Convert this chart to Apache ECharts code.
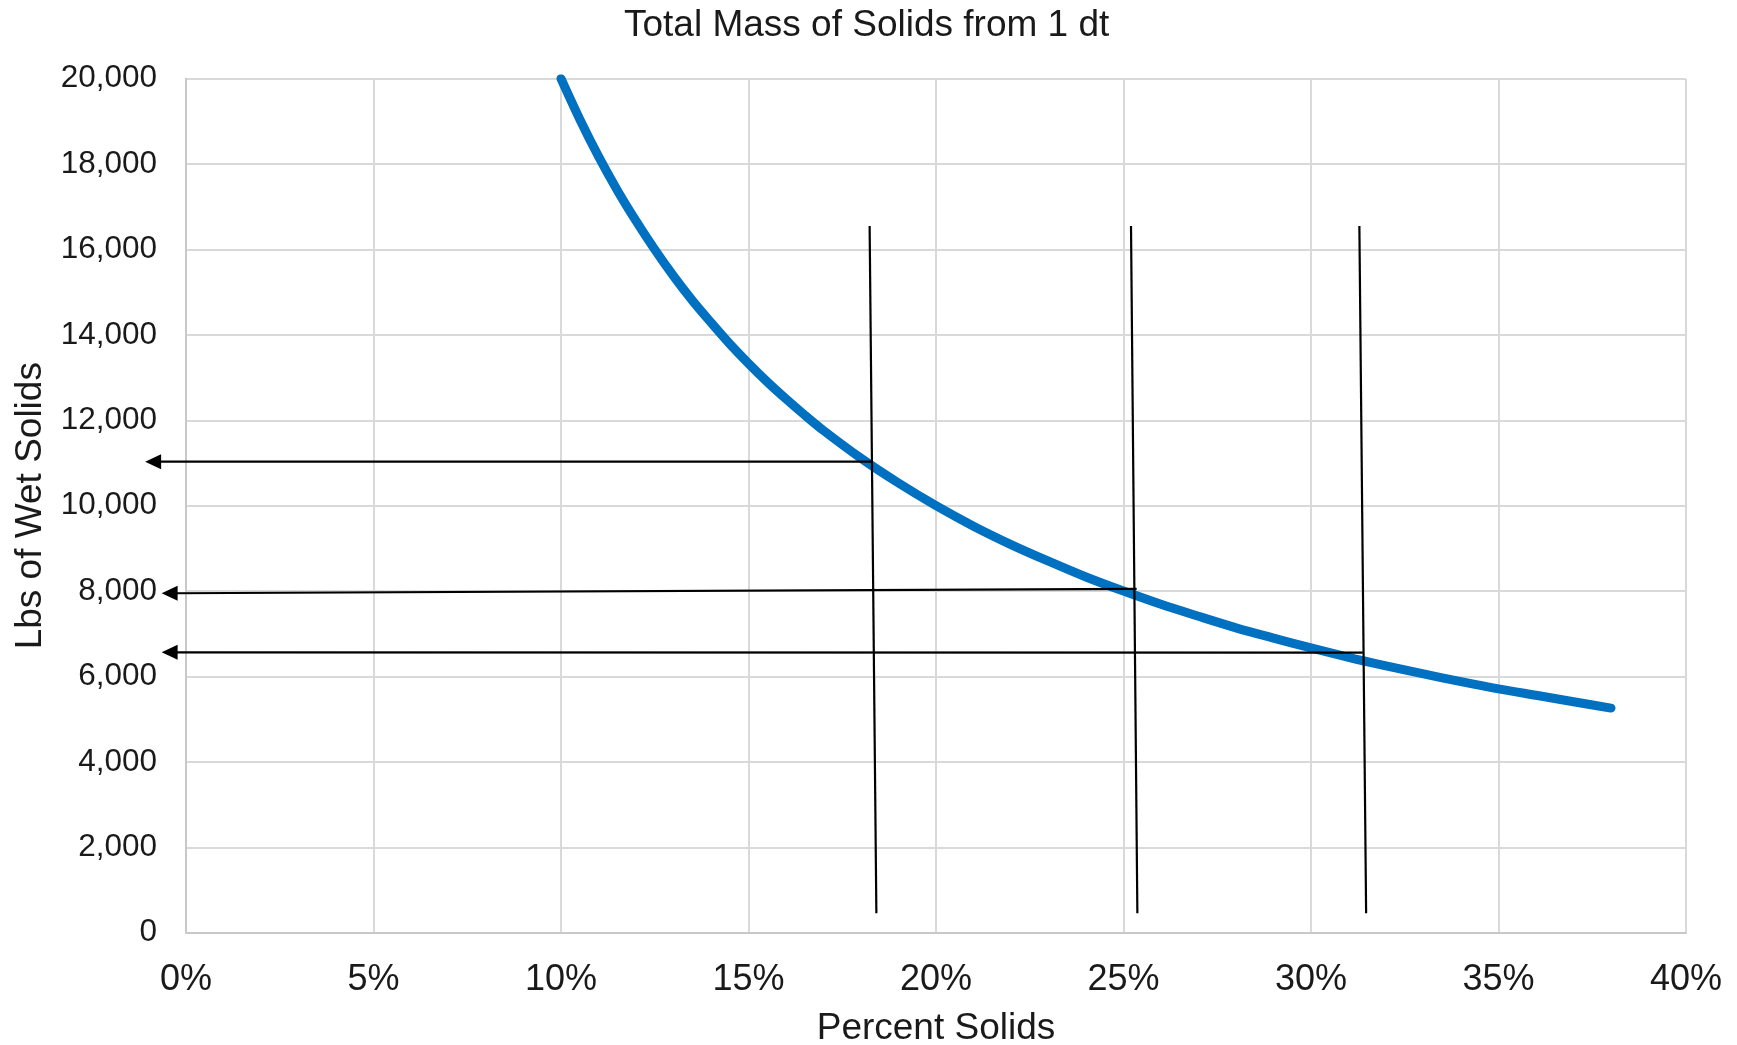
<!DOCTYPE html>
<html>
<head>
<meta charset="utf-8">
<style>
html,body{margin:0;padding:0;background:#fff;}
#chart{width:1737px;height:1045px;}
</style>
<script src="https://cdn.jsdelivr.net/npm/echarts@6/dist/echarts.min.js"></script>
</head>
<body>
<div id="chart"></div>
<script>
// Percent solids (x, %) and lbs of wet solids (y)
const percentSolids = [10, 10.5, 11, 11.5, 12, 12.5, 13, 13.5, 14, 14.5, 15, 15.5, 16, 16.5, 17, 18, 19, 20, 21, 22, 23, 24, 25, 26, 27, 28, 29, 30, 31, 32, 33, 34, 35, 36, 37, 38];
const wetSolidsLbs = [20000, 19050, 18180, 17390, 16670, 16000, 15380, 14810, 14290, 13790, 13330, 12900, 12500, 12120, 11760, 11110, 10530, 10000, 9520, 9090, 8700, 8330, 8000, 7690, 7410, 7140, 6900, 6670, 6450, 6250, 6060, 5880, 5710, 5560, 5410, 5260];

// Black vertical guide lines: [xTop, yTop, xBottom, yBottom]
const guideLines = [
  [18.23, 16550, 18.41, 454],
  [25.20, 16550, 25.37, 454],
  [31.29, 16550, 31.47, 454]
];
// Black arrows: [xStart, yStart, xTip, yTip]
const arrows = [
  [18.30, 11030, -1.09, 11030],
  [25.35, 8050, -0.65, 7948],
  [31.38, 6560, -0.65, 6567]
];

const titleText = 'Total Mass of Solids from 1 dt';
const xName = 'Percent Solids';
const yName = 'Lbs of Wet Solids';

const FONT = '"Liberation Sans", Arial, Helvetica, sans-serif';
const TXT = '#1a1a1a';

const chart = echarts.init(document.getElementById('chart'), null, {renderer: 'canvas'});

function segRender(params, api) {
  const p1 = api.coord([api.value(0), api.value(1)]);
  const p2 = api.coord([api.value(2), api.value(3)]);
  return {
    type: 'line',
    shape: {x1: p1[0], y1: p1[1], x2: p2[0], y2: p2[1]},
    style: {stroke: '#000', lineWidth: 2.2}
  };
}

function arrowRender(params, api) {
  const p1 = api.coord([api.value(0), api.value(1)]);
  const p2 = api.coord([api.value(2), api.value(3)]);
  const dx = p2[0] - p1[0], dy = p2[1] - p1[1];
  const len = Math.sqrt(dx * dx + dy * dy);
  const ux = dx / len, uy = dy / len;
  const L = 16, W = 7.5;
  const bx = p2[0] - ux * L, by = p2[1] - uy * L;
  return {
    type: 'group',
    children: [
      {type: 'line', shape: {x1: p1[0], y1: p1[1], x2: bx + ux * 2, y2: by + uy * 2},
       style: {stroke: '#000', lineWidth: 2.2}},
      {type: 'polygon', shape: {points: [
        [p2[0], p2[1]],
        [bx - uy * W, by + ux * W],
        [bx + uy * W, by - ux * W]
      ]}, style: {fill: '#000'}}
    ]
  };
}

chart.setOption({
  backgroundColor: '#fff',
  animation: false,
  title: {
    text: titleText,
    left: 619,
    top: 2,
    textStyle: {fontFamily: FONT, fontSize: 37, fontWeight: 'normal', color: TXT}
  },
  grid: {left: 186, right: 51, top: 78.7, bottom: 112.3, containLabel: false, outerBoundsMode: 'none'},
  xAxis: {
    type: 'value',
    min: 0, max: 40, interval: 5,
    name: xName,
    nameLocation: 'middle',
    nameGap: 78,
    nameTextStyle: {fontFamily: FONT, fontSize: 37, color: TXT},
    axisLine: {show: true, onZero: false, lineStyle: {color: '#c8c8c8', width: 2}},
    axisTick: {show: false},
    axisLabel: {fontFamily: FONT, fontSize: 36, color: TXT, margin: 29, formatter: '{value}%'},
    splitLine: {show: true, lineStyle: {color: '#d9d9d9', width: 2}}
  },
  yAxis: {
    type: 'value',
    min: 0, max: 20000, interval: 2000,
    name: yName,
    nameLocation: 'middle',
    nameGap: 131,
    nameTextStyle: {fontFamily: FONT, fontSize: 37, color: TXT},
    axisLine: {show: true, lineStyle: {color: '#c8c8c8', width: 2}},
    axisTick: {show: false},
    axisLabel: {fontFamily: FONT, fontSize: 31.5, color: TXT, margin: 29,
      formatter: function (v) { return v.toLocaleString('en-US'); }},
    splitLine: {show: true, lineStyle: {color: '#d9d9d9', width: 2}}
  },
  series: [
    {
      type: 'line',
      data: percentSolids.map((x, i) => [x, wetSolidsLbs[i]]),
      smooth: 0.3,
      showSymbol: false,
      symbol: 'none',
      clip: true,
      lineStyle: {color: '#0070C0', width: 9, cap: 'round', join: 'round'},
      z: 3
    },
    {
      type: 'custom',
      renderItem: segRender,
      data: guideLines,
      encode: {x: [0, 2], y: [1, 3]},
      clip: false,
      silent: true,
      z: 5
    },
    {
      type: 'custom',
      renderItem: arrowRender,
      data: arrows,
      encode: {x: [0, 2], y: [1, 3]},
      clip: false,
      silent: true,
      z: 5
    }
  ]
});
</script>
</body>
</html>
